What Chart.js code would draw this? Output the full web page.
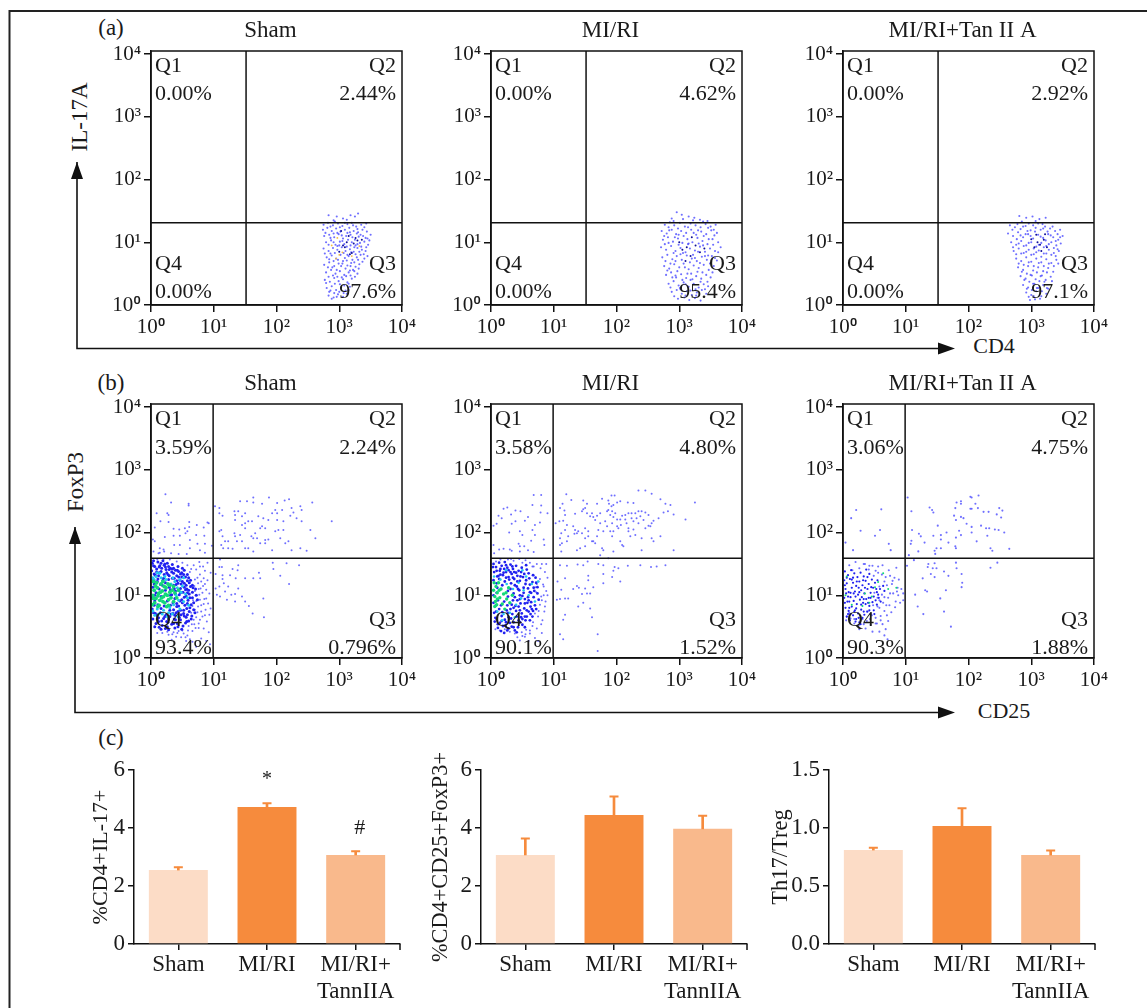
<!DOCTYPE html>
<html><head><meta charset="utf-8">
<style>
html,body{margin:0;padding:0;background:#fff;width:1147px;height:1008px;overflow:hidden}
canvas{position:absolute}
.t{position:absolute;font-family:'Liberation Serif',serif;color:#1a1a1a;white-space:nowrap;line-height:1}
.c{transform:translate(-50%,-50%)}
.r{transform:translate(-50%,-50%) rotate(-90deg)}
svg{position:absolute;left:0;top:0}
</style>
<script src="https://cdn.jsdelivr.net/npm/chart.js@4"></script>
</head><body>
<svg width="1147" height="1008">
<path d="M9.5 1008V11H1147" fill="none" stroke="#222" stroke-width="2"/>
<path d="M77 162V348.5H945" fill="none" stroke="#111" stroke-width="1.6"/>
<path d="M77 162l-6 17h12zM955 348.5l-17-6v12z" fill="#111"/>
<path d="M75 527V712.5H945" fill="none" stroke="#111" stroke-width="1.6"/>
<path d="M75 527l-6 17h12zM955 712.5l-17-6v12z" fill="#111"/>
</svg>
<div class="t c" style="left:111px;top:27px;font-size:23px">(a)</div>
<div class="t c" style="left:111px;top:382px;font-size:23px">(b)</div>
<div class="t c" style="left:111px;top:737px;font-size:23px">(c)</div>
<div class="t r" style="left:79px;top:117px;font-size:23px">IL-17A</div>
<div class="t r" style="left:75px;top:482px;font-size:23px">FoxP3</div>
<div class="t c" style="left:994px;top:346px;font-size:22px">CD4</div>
<div class="t c" style="left:1004px;top:711px;font-size:22px">CD25</div>
<script>
const decades=[1,10,100,1000,10000];
const decadeLabels=['10⁰','10¹','10²','10³','10⁴'];
const groups=['Sham','MI/RI','MI/RI+Tan II A'];
const barCats=['Sham','MI/RI',['MI/RI+','TannIIA']];
const barColors=['#FCDCC6','#F68B3D','#F9B98C'];

const gateA=[10**1.515,10**1.31];
const gateB=[10**0.99,10**1.59];
const qA=[['0.00%','2.44%','97.6%','0.00%'],['0.00%','4.62%','95.4%','0.00%'],['0.00%','2.92%','97.1%','0.00%']];
const qB=[['3.59%','2.24%','0.796%','93.4%'],['3.58%','4.80%','1.52%','90.1%'],['3.06%','4.75%','1.88%','90.3%']];

// Cytometry events, as x,y pairs in hundredths of a decade.
const a1Blue=[283,143,296,141,306,138,318,143,330,146,325,141,291,135,312,136,275,128,282,131,290,127,298,130,305,126,313,129,320,131,327,125,335,128,343,130,274,120,281,123,288,118,295,122,302,117,309,120,316,123,323,118,330,116,337,120,344,117,276,110,284,112,292,108,299,113,306,106,311,110,318,112,325,104,331,109,338,110,345,106,350,112,279,100,287,103,294,96,301,101,308,97,314,104,320,100,326,95,333,99,340,101,346,96,275,90,283,86,290,91,297,88,304,92,310,86,317,89,323,85,329,91,336,88,342,86,280,76,288,79,295,74,302,80,309,75,315,78,321,72,328,76,334,80,340,74,276,64,284,68,292,62,299,66,306,70,313,63,319,67,326,61,332,65,279,52,287,56,294,50,301,54,308,48,315,52,322,56,329,50,277,40,285,37,292,43,299,38,306,41,313,36,320,42,280,27,288,30,295,24,303,28,310,23,317,29,283,15,291,12,298,17,306,13,312,18,
286,125,293,133,301,124,309,131,317,116,322,127,329,121,340,124,297,115,304,111,313,115,321,108,328,114,334,112,342,107,286,107,291,114,278,115,283,96,291,100,297,94,305,102,312,93,318,95,324,92,329,97,335,93,343,92,348,103,277,82,286,82,293,83,300,95,307,83,313,80,319,84,326,81,332,85,339,81,345,78,284,73,291,70,298,72,305,66,312,71,318,62,324,68,330,72,337,69,282,60,289,60,296,56,303,62,310,58,317,55,324,54,331,58,283,45,290,47,297,45,304,44,311,46,318,47,325,45,279,35,286,23,293,34,301,33,308,31,315,34,284,21,292,19,300,21,307,19,315,24,288,10,296,13];
const a1Dark=[306,95,309,92,317,81,320,83,326,107,329,103,336,104,312,100,323,98,300,85,315,110,303,118];
const a1Warm=[297,107,288,95,305,84,300,80,320,78,332,94,295,74];
const a2Blue=[296,148,304,144,315,141,288,138,324,139,333,136,345,134,277,128,285,132,292,127,301,131,309,125,318,130,326,127,334,124,342,129,350,125,358,128,272,118,280,114,288,120,295,113,303,118,311,115,319,120,327,112,335,117,343,113,351,119,360,115,274,104,282,108,290,101,298,106,305,99,313,105,321,100,329,107,337,102,345,97,353,105,362,100,271,92,279,88,287,94,294,86,302,91,310,84,317,90,325,87,333,93,341,85,349,90,357,86,366,92,273,76,281,80,289,73,296,78,304,72,312,79,320,74,328,70,336,77,344,72,352,78,360,71,276,62,284,58,292,65,300,60,307,66,315,57,323,63,331,59,339,64,347,56,355,62,279,48,287,52,295,44,303,49,311,43,319,50,327,46,335,42,343,48,350,44,283,34,291,38,299,31,307,36,315,29,323,34,331,28,339,33,346,30,288,21,296,24,304,18,312,22,320,16,328,20,336,24,343,18,298,10,308,12,316,8,325,11,334,7,
283,124,291,134,298,122,306,137,314,124,322,135,330,119,338,133,346,123,355,120,276,110,284,119,293,108,299,112,307,110,315,98,323,115,331,98,339,110,347,105,356,111,277,97,283,99,291,83,299,96,306,83,314,97,322,80,330,85,338,95,346,79,354,96,362,84,278,70,286,66,294,70,302,81,309,60,317,68,325,75,333,67,341,78,349,66,357,75,281,55,289,44,297,54,305,40,313,50,321,41,329,53,337,52,345,37,353,52,286,28,294,47,302,25,310,33,318,40,326,25,334,37,341,25,292,14,301,27,310,15,318,23,327,15];
const a2Dark=[305,88,312,92,318,78,326,95,333,84,300,100,340,90,320,108,310,70];
const a3Blue=[281,142,292,139,302,141,313,137,323,139,285,133,296,130,307,134,318,129,266,127,274,124,283,121,291,126,299,119,307,123,315,120,322,125,330,122,338,118,346,120,263,114,271,110,279,116,287,108,295,113,303,106,311,112,319,107,327,113,335,108,343,104,350,110,268,100,276,96,284,102,292,95,300,100,308,93,316,99,324,94,332,100,340,95,347,98,272,86,280,90,288,83,296,88,304,81,312,87,320,82,328,88,336,83,344,86,276,74,284,70,292,76,300,69,308,74,316,68,324,73,332,67,340,72,279,60,287,56,295,62,303,55,311,60,319,54,327,59,335,53,283,46,291,42,299,48,307,41,315,46,323,40,331,45,287,32,295,28,303,34,311,27,319,32,327,26,292,20,300,16,308,22,316,14,324,18,298,8,306,9,314,10,
270,120,278,129,287,125,294,118,303,127,311,130,319,122,326,117,334,125,342,113,277,105,283,111,291,113,299,110,306,117,315,109,323,103,331,111,339,102,346,108,271,92,280,98,288,94,296,99,304,90,312,96,320,92,328,97,336,91,342,89,276,81,284,82,292,85,300,80,308,84,316,77,324,82,332,80,339,78,280,66,288,64,296,68,304,62,312,67,320,62,328,66,336,62,343,66,285,53,293,50,301,47,309,52,317,47,325,52,333,38,289,40,297,37,305,34,313,38,321,37,293,26,301,24,309,27,317,22,325,27,296,13,304,14];
const a3Dark=[310,100,314,96,320,104,305,92,300,105,316,86,325,92,308,112,322,113];

const b1Sparse=[23,261,32,248,60,246,60,243,9,231,26,231,28,228,15,218,28,217,61,217,6,208,61,209,73,212,92,215,90,216,54,207,58,202,55,199,36,206,45,205,84,208,36,195,46,195,62,188,72,196,85,195,86,182,6,186,3,189,22,193,37,180,46,180,62,175,74,182,97,179,78,172,14,175,20,173,21,170,14,168,4,170,12,167,32,167,44,166,57,166,86,168,
102,242,109,239,109,231,114,227,112,204,109,202,114,194,118,186,123,186,112,180,115,175,123,175,130,174,133,234,134,228,142,250,153,250,163,256,163,248,177,246,188,256,201,247,213,251,220,253,238,242,240,236,257,248,288,218,254,204,262,191,139,234,145,226,150,231,134,220,133,199,134,194,142,196,145,186,137,186,150,215,161,218,171,226,179,223,187,220,198,236,201,231,209,236,224,239,227,232,232,223,240,218,222,227,211,218,201,220,193,231,177,210,182,207,174,207,166,199,160,194,163,191,169,191,182,188,187,189,203,204,211,204,198,202,219,186,214,183,224,172,238,175,248,171,150,175,155,175,163,170,174,183,182,183,206,191,193,172,145,212,150,207,155,218,
110,157,113,145,109,145,103,134,114,132,114,126,116,119,130,142,139,148,138,140,126,132,135,127,150,127,163,127,172,136,174,127,194,152,195,142,216,151,236,148,206,131,220,118,103,111,109,114,105,101,118,106,123,114,134,102,139,111,145,98,150,90,156,83,162,71,179,95,180,65,134,90,121,93,110,98,128,101,
72,141,78,133,84,127,90,124,68,148,75,119,83,115,88,109,93,103,70,107,77,101,85,94,91,87,95,79,72,91,80,84,87,77,93,69,66,83,74,73,82,66,89,58,68,61,76,55,84,47,92,41,60,51,66,43,52,39,58,36,44,43,36,41,28,37,48,33,56,27,62,30,80,31,88,27,94,22,72,18,90,152,83,146,77,153,95,136,70,125,62,137,88,95,79,111,64,72,71,48,40,34,33,29,
74,128,80,122,86,118,69,115,76,110,82,104,73,100,67,92,78,93,84,86,75,82,70,77,80,74,86,68,72,65,78,61,65,54,59,44,69,54,76,48,50,44,42,40,34,38,26,42,18,40,10,40,55,33,66,26,78,146,86,139,64,142,58,148,50,152,41,154,30,157,20,158,10,157];
const b1Blue=[2,151,6,146,11,153,14,147,19,155,23,145,26,151,31,143,34,149,39,140,43,146,47,134,50,143,55,129,58,123,63,114,1,139,5,134,9,142,13,136,17,143,21,133,24,141,29,131,33,137,37,127,41,131,46,124,49,129,53,119,57,110,61,102,66,96,2,127,7,121,11,126,15,117,19,124,23,120,28,125,31,109,36,116,39,107,43,119,47,111,51,105,56,99,59,92,64,85,68,77,3,113,8,104,13,110,18,116,29,113,33,101,38,95,41,87,45,101,49,93,54,84,57,79,61,74,65,67,1,97,6,91,11,85,16,79,21,83,26,91,31,84,36,77,40,72,44,83,48,69,52,76,56,65,60,59,2,78,7,71,12,64,17,59,22,66,27,57,32,70,37,62,42,55,47,61,51,51,55,56,3,62,8,55,13,49,18,52,23,47,28,45,33,54,38,48,4,147,9,137,16,151,25,136,36,135,44,138,52,133,60,128,48,118,40,117,34,127,27,133,12,131,20,127,55,109,62,96,46,91,35,88,30,76,24,69,15,72,10,68,5,84,43,74,53,67,39,61,50,88,58,104,66,105,16,138,7,132,21,148,29,141,41,123,58,69,
4,155,13,145,22,150,28,146,36,143,42,140,49,136,53,140,58,133,63,124,67,112,72,100,10,122,5,118,37,111,53,113,47,104,60,108,68,88,62,80,52,71,45,65,35,71,28,62,20,63,12,58,6,50,16,46,26,50,36,55,43,50,49,46,57,58,64,62,70,72,34,142,44,129,50,122,56,116,61,120,66,116,71,110,74,93,58,87,53,97,47,76,41,82,38,68,30,66,25,58,10,62,4,72,6,100,16,98,23,108,31,100,39,102];
const b1Cyan=[3,75,8,130,12,70,16,128,20,76,24,125,28,72,32,118,36,85,40,100,44,92,42,112,38,122,5,125,10,78,14,135,18,70,22,130,30,80,35,128,46,78,48,105,52,90,50,115,6,68,26,66,55,102,58,96,46,125,34,70,43,66,60,84,52,128,10,136,3,128];
const b1Green=[3,100,5,108,8,95,10,112,6,88,12,103,14,92,16,118,18,107,20,98,22,88,24,112,26,100,28,93,30,105,9,120,13,84,17,96,21,114,25,82,4,95,7,115,11,99,15,105,19,90,23,102,27,118,32,96,34,108,2,85,36,90,38,104,41,96,30,116,4,122,11,82,28,84,44,108,36,114,19,122];

const b2Sparse=[68,260,80,260,66,244,80,243,26,240,20,238,39,235,47,234,12,227,32,229,79,232,90,231,59,225,54,219,39,218,17,223,9,214,4,211,33,214,78,216,70,212,66,204,46,202,29,200,50,196,70,196,64,187,84,189,44,182,85,180,4,180,13,173,20,174,5,167,30,173,46,178,53,178,59,172,68,169,46,170,33,171,
120,261,128,252,114,246,110,239,117,235,147,251,153,246,169,246,177,254,187,251,192,259,197,259,188,246,192,242,195,244,201,248,206,250,218,248,227,247,235,267,246,267,256,262,270,253,278,246,286,244,325,248,310,221,291,229,282,234,275,232,267,223,259,219,251,228,246,232,240,234,235,234,230,231,224,231,219,231,214,228,209,227,206,221,201,221,195,225,190,228,185,234,187,236,174,231,169,227,163,225,158,226,153,231,147,237,145,234,134,230,118,228,109,218,115,219,103,215,121,212,131,210,134,204,133,198,137,199,118,204,112,199,110,191,123,194,121,186,113,183,110,180,112,170,137,172,142,175,150,178,161,186,166,183,177,175,179,172,195,170,174,164,187,159,209,180,222,194,211,178,230,196,240,191,246,207,256,215,254,210,251,211,235,215,227,218,216,215,207,212,201,210,193,215,185,210,174,215,171,204,179,202,169,194,155,202,150,207,145,199,139,202,155,194,150,191,163,186,190,202,195,202,203,207,219,202,227,205,219,207,193,194,206,186,256,191,259,186,270,194,291,172,240,172,243,220,238,226,232,223,224,223,214,221,198,231,193,234,150,239,161,231,166,220,182,218,
110,148,121,147,138,149,147,148,154,154,171,150,179,148,197,145,203,143,195,139,218,147,238,148,255,145,264,146,278,148,179,134,193,129,155,131,155,124,118,127,106,122,112,109,131,110,137,115,140,112,150,111,163,113,158,103,145,102,153,103,206,122,179,119,118,95,105,93,110,94,123,95,147,88,139,82,118,69,158,79,161,65,115,61,110,38,115,30,170,38,170,11,
73,150,79,143,86,137,90,128,68,132,76,122,83,117,88,107,72,105,80,98,87,90,78,85,70,84,85,74,75,66,82,60,67,57,73,47,62,44,55,38,49,41,42,33,60,27,75,27,70,32,88,150,62,152,55,156,45,158,36,155,27,157,15,157,8,154,90,100,66,146,71,113,54,34,46,28,81,40,
78,126,84,114,73,118,81,92,86,82,76,75,70,71,80,54,66,51,56,45,50,35,38,39,30,42,22,46,14,44,7,46,84,100,68,146,81,150,50,152,32,158,62,39];
const b2Blue=[4,150,8,145,13,152,17,147,22,153,26,144,31,149,35,142,40,147,44,139,49,144,53,134,57,141,61,127,66,121,5,137,10,130,14,139,19,132,24,137,28,129,33,134,37,126,42,131,46,123,51,129,55,118,59,111,64,104,68,97,4,124,9,119,13,126,18,116,22,122,27,107,32,119,36,103,41,114,45,108,50,99,54,94,58,88,63,82,67,75,4,100,11,92,16,84,21,90,26,84,31,78,35,92,40,75,44,82,49,71,53,79,57,66,62,60,4,88,8,74,13,78,17,67,22,61,27,72,32,63,36,57,41,66,46,57,50,53,55,60,5,72,9,62,14,56,19,51,24,57,28,47,33,50,38,44,43,49,6,58,11,48,16,43,21,40,47,130,43,110,38,97,29,125,20,136,12,131,62,117,59,97,69,107,52,112,47,87,42,92,34,70,25,76,18,73,9,104,7,83,37,137,24,148,15,142,56,148,64,89,60,74,48,65,30,56,54,49,41,41,71,128,74,113,76,93,72,78,66,66,
60,135,67,132,72,120,74,103,70,84,63,70,54,66,46,76,39,83,33,85,28,65,23,52,11,54,17,59,31,110,38,116,46,100,52,104,56,124,40,136,34,146,28,140,10,112,24,128,48,137,54,87,44,60,36,49,26,44,7,64,62,105,68,112,57,76,50,62,35,128,15,133,9,139,3,145,21,142,31,137,42,122,27,98,36,80,46,94,60,92,65,78];
const b2Cyan=[5,130,10,74,15,125,20,70,25,118,30,72,35,110,40,85,44,120,48,95,52,108,38,65,56,130,60,100,24,140,65,118,70,90,75,122,50,140,18,60];
const b2Green=[4,108,6,98,8,114,10,104,7,90,12,120,14,96,16,110,18,86,20,102,5,120,9,85,13,108,25,94,30,88,22,78,34,100,28,112,6,82,10,94,24,104];

const b3Sparse=[21,236,61,237,13,223,28,203,59,204,51,195,4,184,73,182,76,172,16,172,
103,256,109,234,138,240,142,236,144,232,110,204,121,198,124,194,109,187,108,182,130,184,144,195,151,211,156,196,156,189,165,200,168,184,185,203,188,196,180,192,149,175,156,175,146,171,147,166,120,170,105,164,179,178,180,175,181,248,188,250,188,246,179,239,203,257,205,256,216,259,211,246,215,239,203,238,205,238,224,233,232,233,249,239,254,235,245,229,252,224,177,227,188,225,192,223,180,220,197,214,205,209,205,200,220,211,228,207,233,207,242,205,248,204,257,200,230,195,213,186,235,175,238,171,265,174,
102,147,113,156,135,145,136,150,143,143,149,143,146,151,161,138,180,152,181,143,140,134,146,129,127,127,168,131,189,134,190,120,189,113,131,108,134,106,164,108,155,95,115,101,119,82,128,70,161,74,172,50,246,152,235,144,
33,150,20,153,10,148,47,147,56,146,63,148,73,140,85,144,89,125,82,128,75,131,66,122,70,116,93,110,96,103,88,100,80,103,72,96,62,101,58,92,69,84,83,81,91,88,77,73,66,75,55,82,60,67,52,64,46,68,38,59,31,62,44,53,54,55,63,54,72,59,36,47,26,46,68,46,47,42,58,42,71,30,66,36,5,60,12,63,18,55,96,92,87,112,78,118,62,133,52,139,41,141,26,143,15,140,
56,136,49,131,68,129,79,123,58,114,86,106,75,103,66,97,55,96,50,104,48,84,58,80,64,88,74,84,84,90,70,68,60,60,52,55,43,62,38,74,33,54,25,52,18,62,10,72,6,66,35,150,42,147];
const b3Blue=[3,138,8,132,13,140,18,135,23,129,28,136,33,130,37,141,42,134,2,124,6,119,11,126,16,120,21,115,26,122,31,116,36,123,41,118,46,125,51,120,4,110,9,105,14,112,19,106,24,101,29,108,34,103,39,110,44,104,49,98,54,105,59,110,2,96,7,90,12,97,17,91,22,86,27,93,32,88,37,94,42,83,47,89,52,92,57,96,4,80,9,75,14,82,19,76,24,71,29,77,34,69,39,74,44,70,49,76,6,66,11,60,16,68,21,62,26,57,31,64,16,128,25,112,30,97,12,104,36,86,20,98,5,103,41,96,35,112,10,90,48,112,55,124,64,115,60,90,66,107,
6,128,14,125,22,122,32,124,39,129,45,113,53,110,3,116,8,98,17,103,26,105,33,94,44,96,56,101,3,88,10,80,21,79,29,85,40,88,54,85,8,70,18,74,25,64,33,74,42,76,50,70,12,70,20,58,28,54];
const b3Green=[6,130,35,103,46,98,64,135,51,113,4,100,14,85,42,88,85,112,72,110,31,83,56,121];
const pts=f=>{const o=[];for(let i=0;i<f.length;i+=2)o.push({x:10**(f[i]/100),y:10**(f[i+1]/100)});return o};

// Bar values and upper error ends
const il17Vals=[2.55,4.72,3.07], il17Err=[2.65,4.85,3.2], il17Marks=['','*','#'];
const tregVals=[3.07,4.45,3.97], tregErr=[3.64,5.09,4.42];
const ratioVals=[0.81,1.017,0.767], ratioErr=[0.83,1.17,0.805];

const FONT="'Liberation Serif',serif", INK='#1a1a1a';
Chart.defaults.font.family=FONT;
Chart.defaults.color=INK;
Chart.defaults.animation=false;

const frame={id:'frame',afterDatasetsDraw(c,_,o){
  const a=c.chartArea,x=c.ctx;x.save();
  x.strokeStyle='#111';x.lineWidth=1.5;x.strokeRect(a.left,a.top,a.width,a.height);
  x.fillStyle=INK;x.textBaseline='middle';
  x.font='23px '+FONT;x.textAlign='center';x.fillText(o.name,(a.left+a.right)/2-6,a.top-20);
  x.font='22px '+FONT;
  const q=o.q,tl=a.left+4,tr=a.right-6;
  x.textAlign='left';
  x.fillText('Q1',tl,a.top+15);x.fillText(q[0],tl,a.top+o.t2);
  x.fillText('Q4',tl,a.bottom-o.b1);x.fillText(q[3],tl,a.bottom-o.b2);
  x.textAlign='right';
  x.fillText('Q2',tr,a.top+15);x.fillText(q[1],tr,a.top+o.t2);
  x.fillText('Q3',tr,a.bottom-o.b1);x.fillText(q[2],tr,a.bottom-o.b2);
  x.restore();
}};

function dots(data,color,r,order){return{data:pts(data),backgroundColor:color,borderWidth:0,pointRadius:r,pointHoverRadius:r,showLine:false,order}}
function logAxis(max,fit){return{type:'logarithmic',min:1,max,
  afterBuildTicks(s){s.ticks=decades.map(v=>({value:v,major:true}))},
  afterFit(s){fit(s)},
  border:{color:'#111',width:1.5},
  grid:{drawOnChartArea:false,tickLength:7,tickColor:'#111',lineWidth:1.5},
  ticks:{autoSkip:false,maxRotation:0,padding:3,font:{size:21,family:"'Liberation Serif',Roboto,serif"},color:INK,callback:v=>decadeLabels[decades.indexOf(v)]}}}

function flow(id,left,top,name,gate,q,sets,row){
  const yMax=10**4.05, cv=document.createElement('canvas');
  cv.id=id;cv.width=335;cv.height=324;cv.style.left=left+'px';cv.style.top=top+'px';document.body.appendChild(cv);
  const lineStyle={borderColor:'#111',borderWidth:1.5,pointRadius:0,showLine:true,order:0};
  new Chart(cv,{type:'scatter',plugins:[frame],data:{datasets:[
    {...lineStyle,data:[{x:gate[0],y:1},{x:gate[0],y:yMax}]},
    {...lineStyle,data:[{x:1,y:gate[1]},{x:10000,y:gate[1]}]},
    ...sets]},
    options:{responsive:false,layout:{padding:{top:32,right:24,left:0,bottom:0}},
    plugins:{legend:{display:false},tooltip:{enabled:false},title:{display:false},
      frame:{q,name,...row}},
    scales:{x:logAxis(10000,s=>{s.height=38}),y:logAxis(yMax,s=>{s.width=60})}}});
}
const SP='rgba(70,70,255,.78)',BL='#2020f0',DK='#10109a',CY='#25c8ee',GR='#12d87a',WM='#f5b942';
const rowA={t2:43,b1:41,b2:13}, rowB={t2:44,b1:38,b2:10};
flow('a1',91,19,groups[0],gateA,qA[0],[dots(a1Warm,WM,.9,2),dots(a1Dark,DK,1,3),dots(a1Blue,SP,1.05,4)],rowA);
flow('a2',431,19,groups[1],gateA,qA[1],[dots(a2Dark,DK,1,3),dots(a2Blue,SP,1.05,4)],rowA);
flow('a3',783,19,groups[2],gateA,qA[2],[dots(a3Dark,DK,1,3),dots(a3Blue,SP,1.05,4)],rowA);
flow('b1',91,372,groups[0],gateB,qB[0],[dots(b1Green,GR,1.9,1),dots(b1Cyan,CY,1.5,2),dots(b1Blue,BL,1.5,3),dots(b1Sparse,SP,1,4)],rowB);
flow('b2',431,372,groups[1],gateB,qB[1],[dots(b2Green,GR,1.7,1),dots(b2Cyan,CY,1.3,2),dots(b2Blue,BL,1.4,3),dots(b2Sparse,SP,1,4)],rowB);
flow('b3',783,372,groups[2],gateB,qB[2],[dots(b3Green,GR,1,1),dots(b3Blue,BL,1.1,3),dots(b3Sparse,SP,1.05,4)],rowB);

const barEnd={id:'barEnd',afterDatasetsDraw(c,_,o){
  const a=c.chartArea,x=c.ctx;x.save();
  x.strokeStyle='#111';x.lineWidth=1.5;x.beginPath();x.moveTo(a.right,a.bottom);x.lineTo(a.right,a.bottom+6);x.stroke();
  if(o.marks){x.fillStyle=INK;x.textAlign='center';x.textBaseline='middle';
    o.marks.forEach((m,i)=>{if(!m)return;
      x.font=(m==='*'?'20px ':'22px ')+FONT;
      x.fillText(m,c.scales.x.getPixelForValue(i)+(m==='#'?4:0),c.scales.y.getPixelForValue(il17Err[i])-(m==='*'?24:23));
    });}
  x.restore();
}};
function bars(id,left,axisW,title,tSize,vals,err,max,step,marks,dec){
  const cv=document.createElement('canvas');
  cv.id=id;cv.width=axisW+266+20;cv.height=268;cv.style.left=left+'px';cv.style.top='740px';document.body.appendChild(cv);
  new Chart(cv,{type:'bar',plugins:[barEnd],data:{labels:barCats,datasets:[
    {data:vals,backgroundColor:barColors,grouped:false,categoryPercentage:1,barPercentage:.665,order:3},
    {data:vals.map((v,i)=>[v,err[i]]),backgroundColor:'#F68B3D',grouped:false,barThickness:2,order:2},
    {type:'line',data:err,showLine:false,pointStyle:'line',pointRadius:4.5,pointBorderColor:'#F68B3D',pointBorderWidth:2,order:1}]},
  options:{responsive:false,layout:{padding:{top:30,right:20}},
    plugins:{legend:{display:false},tooltip:{enabled:false},barEnd:{marks}},
    scales:{
      x:{afterFit(s){s.height=64},border:{color:'#111',width:1.5},
        grid:{offset:false,drawOnChartArea:false,tickLength:6,tickColor:'#111',lineWidth:1.5},
        ticks:{autoSkip:false,maxRotation:0,padding:1,color:INK,font:{size:23,lineHeight:1.2}}},
      y:{min:0,max,afterBuildTicks(s){const t=[];for(let i=0;i*step<=max+1e-9;i++)t.push({value:i*step});s.ticks=t},afterFit(s){s.width=axisW},
        border:{color:'#111',width:1.5},
        grid:{drawOnChartArea:false,tickLength:6,tickColor:'#111',lineWidth:1.5},
        ticks:{padding:3,color:INK,font:{size:23},callback:v=>v.toFixed(dec)},
        title:{display:true,text:title,color:INK,font:{size:tSize,lineHeight:1.15},padding:0}}}}});
}
bars('c1',89,45,'%CD4+IL-17+',22,il17Vals,il17Err,6,2,il17Marks,0);
bars('c2',428,53,'%CD4+CD25+FoxP3+',22.3,tregVals,tregErr,6,2,null,0);
bars('c3',768,61,'Th17/Treg',22.5,ratioVals,ratioErr,1.5,.5,null,1);
</script>
</body></html>
